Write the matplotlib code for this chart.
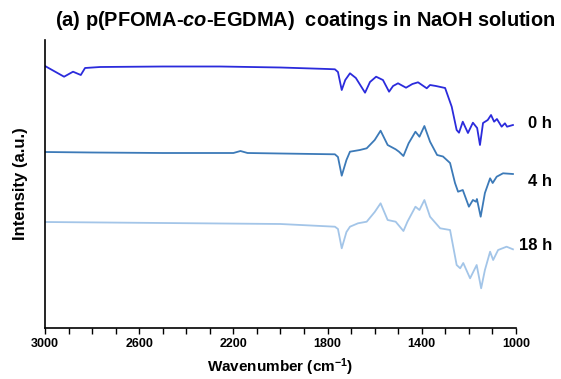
import matplotlib.pyplot as plt
import numpy as np

plt.rcParams['font.family'] = ['Liberation Sans', 'DejaVu Sans']
plt.rcParams['mathtext.fontset'] = 'custom'
plt.rcParams['mathtext.rm'] = 'Liberation Sans:bold'
plt.rcParams['mathtext.bf'] = 'Liberation Sans:bold'
plt.rcParams['mathtext.bfit'] = 'Liberation Sans:italic:bold'
plt.rcParams['mathtext.default'] = 'bf'

# espectros FTIR (ya desplazados verticalmente)
wn_0h = [3000, 2919, 2881, 2848, 2830, 2766, 2500, 2257, 2000, 1800, 1769, 1756,
         1740, 1725, 1705, 1680, 1641, 1620, 1594, 1565, 1539, 1522, 1501, 1467,
         1440, 1416, 1379, 1365, 1340, 1301, 1273, 1252, 1242, 1226, 1204, 1183,
         1165, 1153, 1140, 1120, 1106, 1093, 1081, 1061, 1047, 1038, 1013]
int_0h = [26.2, 25.13, 25.63, 25.3, 26.0, 26.1, 26.15, 26.15, 26.05, 25.9, 25.87, 25.6,
          23.8, 24.8, 25.47, 25.0, 23.53, 24.6, 25.13, 24.8, 23.63, 24.2, 24.47, 24.03,
          24.4, 24.57, 23.97, 24.3, 24.2, 24.0, 22.13, 19.8, 19.53, 20.63, 19.5, 20.53,
          20.0, 18.3, 20.5, 20.8, 21.3, 20.63, 20.9, 20.13, 20.47, 20.13, 20.3]

wn_4h = [3000, 2800, 2500, 2200, 2170, 2140, 2000, 1769, 1756, 1740, 1720, 1705,
         1663, 1634, 1600, 1575, 1545, 1511, 1497, 1478, 1456, 1427, 1410, 1389,
         1365, 1335, 1310, 1280, 1259, 1246, 1226, 1200, 1183, 1170, 1166, 1150,
         1132, 1110, 1099, 1082, 1055, 1013]
int_4h = [17.6, 17.55, 17.5, 17.5, 17.7, 17.5, 17.45, 17.37, 17.1, 15.23, 16.8, 17.63,
          17.8, 17.97, 18.8, 19.73, 18.3, 17.87, 17.63, 17.2, 18.47, 19.63, 19.13, 20.2,
          18.63, 17.3, 17.15, 16.5, 14.5, 13.63, 13.8, 12.13, 12.8, 12.63, 12.9, 11.13,
          13.5, 14.97, 14.5, 15.13, 15.47, 15.4]

wn_18h = [3000, 2500, 2000, 1769, 1756, 1740, 1720, 1705, 1671, 1634, 1600, 1575,
          1545, 1511, 1478, 1461, 1427, 1410, 1389, 1365, 1322, 1280, 1252, 1237,
          1224, 1195, 1167, 1148, 1132, 1110, 1097, 1076, 1040, 1013]
int_18h = [10.6, 10.5, 10.4, 10.13, 9.9, 7.97, 9.6, 10.13, 10.47, 10.63, 11.6, 12.47,
           10.8, 10.63, 9.7, 10.63, 12.13, 11.8, 12.8, 11.13, 9.97, 9.8, 6.3, 5.97,
           6.5, 4.97, 6.3, 3.97, 5.8, 7.63, 6.8, 7.8, 8.13, 7.87]

etiquetas = ['0 h', '4 h', '18 h']
y_etiquetas = [20.4, 14.6, 8.3]
colores = ['#2b2bdc', '#3c7ab8', '#a3c5e8']

fig = plt.figure(figsize=(5.61, 3.79), dpi=100)
ax = fig.add_axes([45/561, 1 - 328/379, 471/561, 288/379])

series = [(wn_0h, int_0h), (wn_4h, int_4h), (wn_18h, int_18h)]
for (wn, inten), lab, yl, c in zip(series, etiquetas, y_etiquetas, colores):
    ax.plot(wn, inten, color=c, lw=1.3)
    ax.text(1.077, yl, lab, transform=ax.get_yaxis_transform(),
            ha='right', va='center', fontsize=12, fontweight='bold')

ax.set_xlim(3000, 1000)
ax.set_ylim(0, 28.8)
ax.set_xticks(np.arange(1000, 3001, 400))
ax.set_xticks(np.arange(1000, 3001, 100), minor=True)
ax.tick_params(axis='x', which='both', direction='out', length=4, width=1,
               labelsize=9)
for t in ax.get_xticklabels():
    t.set_fontweight('bold')
ax.set_yticks([])

for spine in ["right", "top"]:
    ax.spines[spine].set_color("none")
for spine in ["left", "bottom"]:
    ax.spines[spine].set_linewidth(1.2)

ax.set_xlabel(r'Wavenumber (cm$^{-1}$)', fontsize=11, fontweight='bold')
ax.set_ylabel('Intensity (a.u.)', fontsize=12, fontweight='bold', labelpad=12)

fig.text(305/561, 1 - 20/379,
         r'(a) p(PFOMA-$\mathbfit{co}$-EGDMA)  coatings in NaOH solution',
         ha='center', va='center', fontsize=14.4, fontweight='bold')

fig.savefig('out.png', dpi=100)
